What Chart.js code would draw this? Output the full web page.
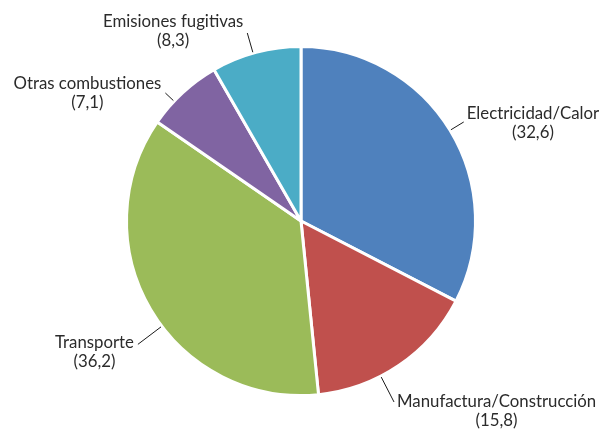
<!DOCTYPE html>
<html>
<head>
<meta charset="utf-8">
<script src="https://cdn.jsdelivr.net/npm/chart.js@4/dist/chart.umd.min.js"></script>
<style>
  html, body { margin: 0; padding: 0; background: #fff; }
  #wrap { width: 602px; height: 438px; position: relative; }
</style>
</head>
<body>
<div id="wrap"><canvas id="pie"></canvas></div>
<script>
// Emissions share by sector (%), clockwise from 12 o'clock.
const categories = [
  'Electricidad/Calor',
  'Manufactura/Construcción',
  'Transporte',
  'Otras combustiones',
  'Emisiones fugitivas',
];
const shares = [32.6, 15.8, 36.2, 7.1, 8.3];
const valueLabels = ['(32,6)', '(15,8)', '(36,2)', '(7,1)', '(8,3)'];

const sliceColors = ['#4F81BD', '#C0504D', '#9BBB59', '#8064A2', '#4BACC6'];
const TEXT_COLOR = '#2b2b2b';
const FONT = '16.8px Lato, "Open Sans", sans-serif';
const LINE_H = 19;

// Label layout tweaks (Excel nudges labels a little off the slice middle
// and uses different leader lengths to avoid overlaps)
const leaderNudgeDeg = [0, 7, -6.5, -4, -1];
const leaderLength = [15, 28, 29, 11, 20];

const outsideLabels = {
  id: 'outsideLabels',
  afterDatasetsDraw(chart) {
    const { ctx } = chart;
    const arcs = chart.getDatasetMeta(0).data;
    ctx.save();
    ctx.font = FONT;
    ctx.fillStyle = TEXT_COLOR;
    ctx.strokeStyle = '#1a1a1a';
    ctx.lineWidth = 1;
    ctx.textBaseline = 'alphabetic';
    ctx.textAlign = 'center';
    arcs.forEach((arc, i) => {
      const { x, y, outerRadius, startAngle, endAngle } = arc.getProps(
        ['x', 'y', 'outerRadius', 'startAngle', 'endAngle'], true);
      const a = (startAngle + endAngle) / 2 + leaderNudgeDeg[i] * Math.PI / 180;
      const cos = Math.cos(a), sin = Math.sin(a);
      const r0 = outerRadius + 1, r1 = r0 + leaderLength[i];
      const sx = x + cos * r0, sy = y + sin * r0;
      const ex = x + cos * r1, ey = y + sin * r1;
      ctx.beginPath();
      ctx.moveTo(sx, sy);
      ctx.lineTo(ex, ey);
      ctx.stroke();

      const lines = [categories[i], valueLabels[i]];
      const w = Math.max(...lines.map((t) => ctx.measureText(t).width));
      const left = cos >= 0 ? ex + 3 : ex - 4 - w;
      const base = ey + sin * 6;
      lines.forEach((t, k) => {
        ctx.fillText(t, left + w / 2, base + LINE_H * k);
      });
    });
    ctx.restore();
  },
};

new Chart(document.getElementById('pie').getContext('2d'), {
  type: 'pie',
  data: {
    labels: categories,
    datasets: [{
      data: shares,
      backgroundColor: sliceColors,
      borderColor: '#ffffff',
      borderWidth: 3,
    }],
  },
  options: {
    responsive: true,
    maintainAspectRatio: false,
    animation: false,
    layout: { padding: { top: 45, bottom: 41 } },
    plugins: {
      legend: { display: false },
      tooltip: { enabled: false },
    },
  },
  plugins: [outsideLabels],
});
</script>
</body>
</html>
